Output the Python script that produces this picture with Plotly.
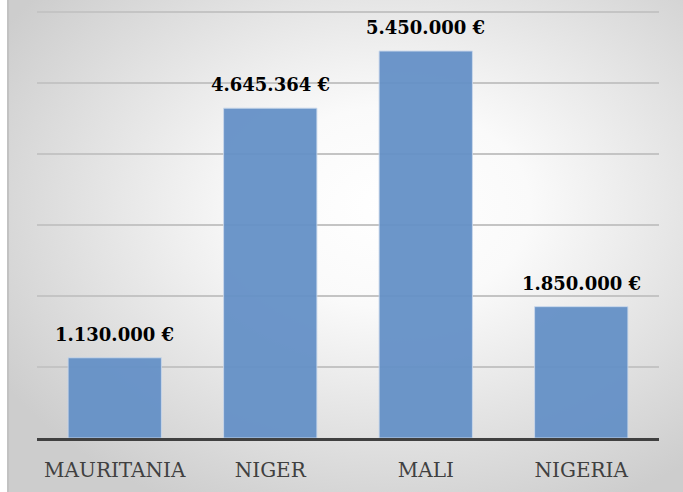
import plotly.graph_objects as go
import urllib.parse

categories = ["MAURITANIA", "NIGER", "MALI", "NIGERIA"]
values = [1130000, 4645364, 5450000, 1850000]
labels = ["1.130.000 €", "4.645.364 €", "5.450.000 €", "1.850.000 €"]

W, H = 683, 492
ml, mr, mt, mb = 37, 24, 9, 54
pw, ph = W - ml - mr, H - mt - mb
ymax = ph / 71.0 * 1e6

bx0 = 7
svg = f'''<svg xmlns="http://www.w3.org/2000/svg" width="{W-bx0}" height="{H}" viewBox="0 0 {W-bx0} {H}" preserveAspectRatio="none">
<defs><radialGradient id="g" cx="0.57" cy="0.42" r="0.68" gradientUnits="objectBoundingBox">
<stop offset="0" stop-color="#ffffff"/><stop offset="0.3" stop-color="#fafafa"/><stop offset="1" stop-color="#cdcdcd"/></radialGradient></defs>
<rect x="0" y="0" width="{W-bx0}" height="{H}" fill="url(#g)"/>
<line x1="1" y1="0" x2="1" y2="{H}" stroke="#c2c2c2" stroke-width="2"/>
</svg>'''
src = "data:image/svg+xml;charset=utf-8," + urllib.parse.quote(svg)

x_left = (bx0 - ml) / pw
x_right = (W - ml) / pw
y_top = (H - mb) / ph
y_bot = -mb / ph

fig = go.Figure()
fig.add_trace(go.Bar(
    x=categories, y=values,
    marker=dict(color="#6591c7", line=dict(color="rgba(200,215,235,0.9)", width=1)),
    opacity=0.95,
    hoverinfo="skip",
))

for c, v, t in zip(categories, values, labels):
    fig.add_annotation(x=c, y=v, text=f"<b>{t}</b>", showarrow=False,
                       yanchor="bottom", yshift=11,
                       font=dict(family="DejaVu Serif", size=18, color="#000000"))

fig.add_layout_image(dict(source=src, xref="paper", yref="paper",
                          x=x_left, y=y_top, sizex=x_right - x_left, sizey=y_top - y_bot,
                          xanchor="left", yanchor="top", sizing="stretch", layer="below"))

fig.update_layout(
    width=W, height=H,
    margin=dict(l=ml, r=mr, t=mt, b=mb),
    paper_bgcolor="#ffffff",
    plot_bgcolor="rgba(0,0,0,0)",
    bargap=0.4,
    showlegend=False,
    xaxis=dict(showline=True, linecolor="#404040", linewidth=3,
               tickfont=dict(family="DejaVu Serif", size=20, color="#404040"),
               ticklabelstandoff=12, showgrid=False),
    yaxis=dict(range=[0, ymax], dtick=1000000, showgrid=True,
               gridcolor="#c4c4c4", gridwidth=2, showticklabels=False,
               zeroline=False, fixedrange=True),
)

fig.write_html("out.html")
